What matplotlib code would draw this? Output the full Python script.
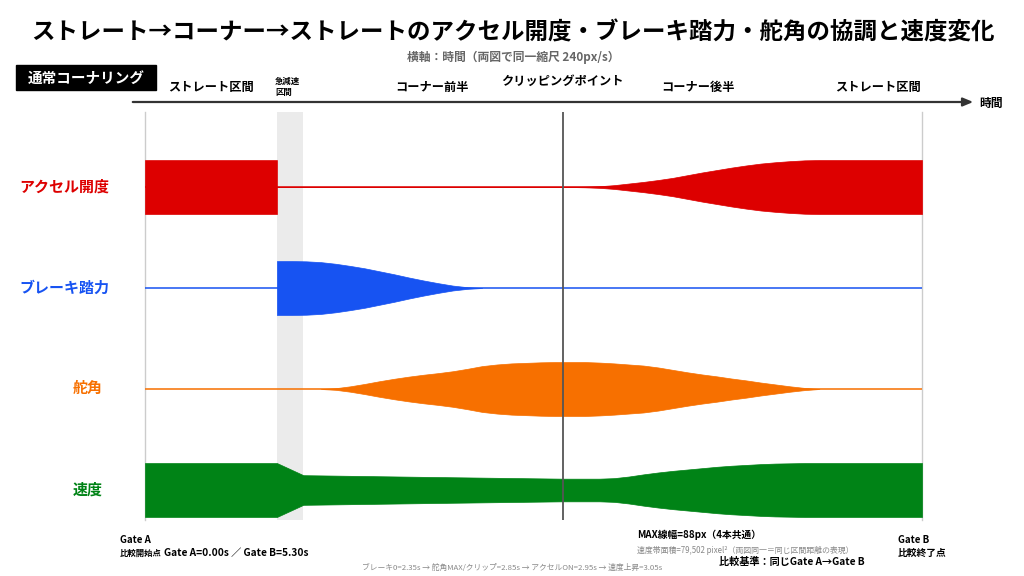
import matplotlib
matplotlib.use("Agg")
import matplotlib.pyplot as plt

plt.rcParams["font.family"] = ["Noto Sans CJK JP", "DejaVu Sans"]

# --- data (time in s, band width as share of MAX) ---
gate_a, gate_b = 0.0, 5.30
brake_zone = (0.90, 1.08)
clip_time = 2.85

accel_t = [0.0, 0.9, 0.9, 2.9, 3.0, 3.1, 3.2, 3.3, 3.4, 3.5, 3.6, 3.7, 3.8,
           3.9, 4.0, 4.1, 4.2, 4.3, 4.4, 4.5, 4.6, 5.3]
accel_w = [1.0, 1.0, 0.0, 0.0, 0.01, 0.03, 0.07, 0.13, 0.19, 0.26, 0.34, 0.44,
           0.54, 0.63, 0.72, 0.80, 0.87, 0.92, 0.96, 0.99, 1.0, 1.0]

brake_t = [0.9, 0.9, 1.0, 1.1, 1.2, 1.3, 1.4, 1.5, 1.6, 1.7, 1.8, 1.9, 2.0,
           2.1, 2.2, 2.3]
brake_w = [0.0, 1.0, 1.0, 0.99, 0.96, 0.90, 0.82, 0.73, 0.62, 0.51, 0.39,
           0.28, 0.18, 0.09, 0.03, 0.0]

steer_t = [1.2, 1.3, 1.4, 1.5, 1.6, 1.7, 1.8, 1.9, 2.0, 2.1, 2.2, 2.3, 2.4,
           2.5, 2.6, 2.7, 2.8, 2.9, 3.0, 3.1, 3.2, 3.3, 3.4, 3.5, 3.6, 3.7,
           3.8, 3.9, 4.0, 4.1, 4.2, 4.3, 4.4, 4.5, 4.6]
steer_w = [0.0, 0.03, 0.10, 0.19, 0.29, 0.38, 0.46, 0.53, 0.59, 0.66, 0.75,
           0.85, 0.91, 0.95, 0.97, 0.99, 1.0, 1.0, 1.0, 0.98, 0.95, 0.91,
           0.87, 0.80, 0.71, 0.62, 0.54, 0.47, 0.39, 0.32, 0.24, 0.17, 0.10,
           0.04, 0.0]

speed_t = [0.0, 0.9, 1.08, 2.0, 2.85, 3.1, 3.2, 3.3, 3.4, 3.5, 3.6, 3.7, 3.8,
           3.9, 4.0, 4.1, 4.2, 4.3, 4.4, 4.5, 4.6, 5.3]
speed_w = [1.0, 1.0, 0.55, 0.48, 0.42, 0.42, 0.44, 0.50, 0.58, 0.65, 0.71,
           0.76, 0.81, 0.86, 0.90, 0.93, 0.96, 0.98, 0.99, 1.0, 1.0, 1.0]

row_labels = ["アクセル開度", "ブレーキ踏力", "舵角", "速度"]
row_colors = ["#DD0000", "#1753F2", "#F77000", "#008316"]
row_lines = [True, True, True, False]

sections = ["ストレート区間", "急減速\n区間", "コーナー前半", "クリッピングポイント",
            "コーナー後半", "ストレート区間"]

title = "ストレート→コーナー→ストレートのアクセル開度・ブレーキ踏力・舵角の協調と速度変化"
subtitle = "横軸：時間（両図で同一縮尺 240px/s）"

# --- figure ---
fig = plt.figure(figsize=(10.24, 5.76), dpi=100)

# main band area: Gate A at x=145px, Gate B at 922px, rows 101px apart
ax = fig.add_axes([145 / 1024, 1 - 520 / 576, 777 / 1024, 408 / 576])
ax.set_xlim(gate_a, gate_b)
ax.set_ylim(3.297, -0.743)
ax.axis("off")
half = 0.267  # MAX line width / 2 in row units

ax.axvspan(*brake_zone, color="#EBEBEB", zorder=0, lw=0)
for gx in (gate_a, gate_b):
    ax.axvline(gx, color="#CCCCCC", lw=1, clip_on=False, zorder=1)
ax.axvline(clip_time, color="#555555", lw=1.3, zorder=5)

series = [(accel_t, accel_w), (brake_t, brake_w), (steer_t, steer_w), (speed_t, speed_w)]
for i, ((t, w), color, has_line) in enumerate(zip(series, row_colors, row_lines)):
    if has_line:
        ax.plot([gate_a, gate_b], [i, i], color=color, lw=1.3, zorder=2, alpha=0.85)
    lo = [i - v * half for v in w]
    hi = [i + v * half for v in w]
    ax.fill_between(t, lo, hi, color=color, lw=0.5, edgecolor=color, zorder=3)

# overlay for text in pixel coordinates
ov = fig.add_axes([0, 0, 1, 1])
ov.set_xlim(0, 1024)
ov.set_ylim(576, 0)
ov.axis("off")

ov.text(513, 33, title, ha="center", va="center", fontsize=16.9, fontweight="bold")
ov.text(513, 57, subtitle, ha="center", va="center", fontsize=8.5,
        fontweight="bold", color="#666666")

ov.add_patch(plt.Rectangle((16, 65), 140, 25, color="black"))
ov.text(86, 78, "通常コーナリング", ha="center", va="center", fontsize=10.5,
        fontweight="bold", color="white")

sec_x = [211, 275, 432, 562, 698, 878]
sec_y = [87, 87, 87, 81, 87, 87]
for s, sx, sy in zip(sections, sec_x, sec_y):
    if "\n" in s:
        ov.text(sx, sy, s, ha="left", va="center", fontsize=6, fontweight="bold",
                linespacing=1.4)
    else:
        ov.text(sx, sy, s, ha="center", va="center", fontsize=8.8, fontweight="bold")

ov.annotate("", xy=(976, 102), xytext=(130, 102),
            arrowprops=dict(arrowstyle="-|>,head_length=0.6,head_width=0.25",
                            color="#333333", lw=1.6))
ov.text(979, 103, "時間", ha="left", va="center", fontsize=8.5, fontweight="bold")

label_x = [64, 64, 88, 88]
label_y = [187, 288, 388, 490]
for lab, lx, ly, c in zip(row_labels, label_x, label_y, row_colors):
    ov.text(lx, ly, lab, ha="center", va="center", fontsize=10.8,
            fontweight="bold", color=c)

# bottom notes
ov.text(120, 540, "Gate A", ha="left", va="center", fontsize=7, fontweight="bold")
ov.text(120, 553, "比較開始点", ha="left", va="center", fontsize=6, fontweight="bold")
ov.text(164, 553, "Gate A=0.00s ／ Gate B=5.30s", ha="left", va="center",
        fontsize=7.3, fontweight="bold")
ov.text(898, 540, "Gate B", ha="left", va="center", fontsize=7, fontweight="bold")
ov.text(898, 553, "比較終了点", ha="left", va="center", fontsize=7, fontweight="bold")
ov.text(637, 535, "MAX線幅=88px（4本共通）", ha="left", va="center", fontsize=7,
        fontweight="bold")
ov.text(637, 550, "速度帯面積=79,502 pixel²（両図同一＝同じ区間距離の表現）",
        ha="left", va="center", fontsize=5.7, color="#888888")
ov.text(792, 562, "比較基準：同じGate A→Gate B", ha="center", va="center",
        fontsize=7.3, fontweight="bold")
ov.text(512, 568,
        "ブレーキ0=2.35s → 舵角MAX/クリップ=2.85s → アクセルON=2.95s → 速度上昇=3.05s",
        ha="center", va="center", fontsize=5.6, color="#888888")

fig.savefig("out.png", dpi=100)
